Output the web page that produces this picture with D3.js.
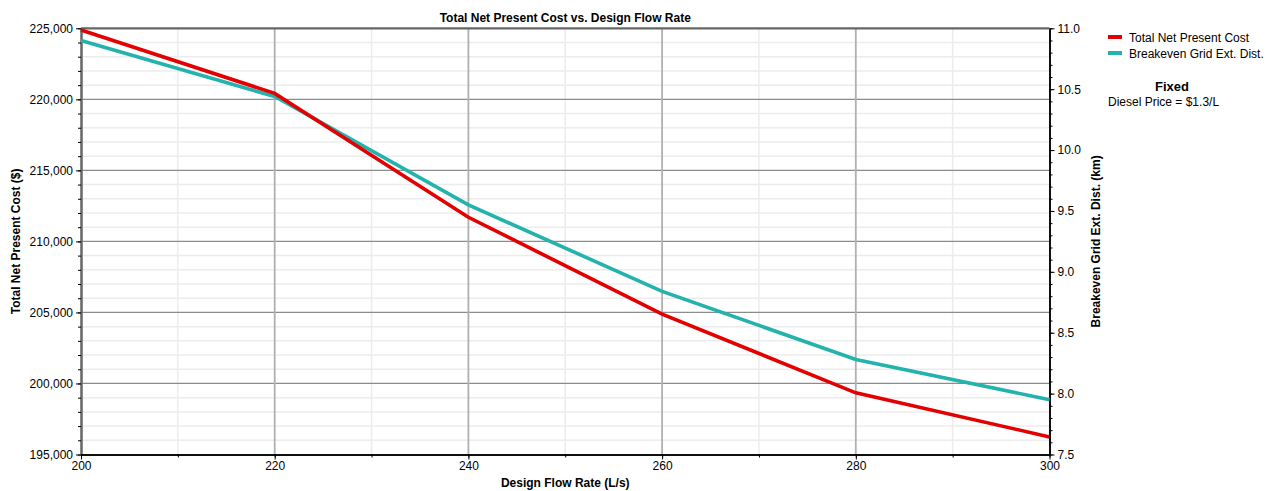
<!DOCTYPE html>
<html><head><meta charset="utf-8">
<script src="https://cdn.jsdelivr.net/npm/d3@7"></script>
<style>body{margin:0;background:#fff}svg{display:block;font-family:"Liberation Sans",Arial,sans-serif}</style>
</head><body><svg id="c" width="1287" height="491"></svg>
<script>
const flowRates = [200, 220, 240, 260, 280, 300];
const totalNPC = [224880, 220420, 211700, 204880, 199340, 196240];
const breakevenDist = [10.90, 10.44, 9.55, 8.84, 8.28, 7.95];
const xTicks = [200, 220, 240, 260, 280, 300];
const leftTicks = [195000, 200000, 205000, 210000, 215000, 220000, 225000];
const rightTicks = [7.5, 8.0, 8.5, 9.0, 9.5, 10.0, 10.5, 11.0];
const seriesNames = ["Total Net Present Cost", "Breakeven Grid Ext. Dist."];
const colors = ["#e30000", "#23b3ac"];

const svg = d3.select("#c");
const L = 81, R = 1049.5, T = 28.3, B = 454.5;
const x = d3.scaleLinear().domain([200, 300]).range([L, R]);
const yL = d3.scaleLinear().domain([195000, 225000]).range([B, T]);
const yR = d3.scaleLinear().domain([7.5, 11.0]).range([B, T]);

// minor grid
const g = svg.append("g");
d3.range(195000, 225001, 1000).filter(v => v % 5000 !== 0).forEach(v => {
  g.append("line").attr("x1", L).attr("x2", R).attr("y1", yL(v)).attr("y2", yL(v)).attr("stroke", "#ececec").attr("stroke-width", 1.5);
});
d3.range(210, 300, 20).forEach(v => {
  g.append("line").attr("x1", x(v)).attr("x2", x(v)).attr("y1", T).attr("y2", B).attr("stroke", "#ececec").attr("stroke-width", 1.5);
});
// major grid
leftTicks.slice(1, -1).forEach(v => {
  g.append("line").attr("x1", L).attr("x2", R).attr("y1", yL(v)).attr("y2", yL(v)).attr("stroke", "#8c8c8c").attr("stroke-width", 1.3);
});
xTicks.slice(1, -1).forEach(v => {
  g.append("line").attr("x1", x(v)).attr("x2", x(v)).attr("y1", T).attr("y2", B).attr("stroke", "#b0b0b0").attr("stroke-width", 1.8);
});

// axes
const fmt = d3.format(",");
const axL = svg.append("g").attr("transform", `translate(${L},0)`)
  .call(d3.axisLeft(yL).tickValues(leftTicks).tickFormat(fmt).tickSize(5).tickSizeOuter(0));
const axLm = svg.append("g").attr("transform", `translate(${L},0)`)
  .call(d3.axisLeft(yL).tickValues(d3.range(195000, 225001, 1000)).tickFormat("").tickSize(3).tickSizeOuter(0));
const axR = svg.append("g").attr("transform", `translate(${R},0)`)
  .call(d3.axisRight(yR).tickValues(rightTicks).tickFormat(d3.format(".1f")).tickSize(5).tickSizeOuter(0));
const axRm = svg.append("g").attr("transform", `translate(${R},0)`)
  .call(d3.axisRight(yR).tickValues(d3.range(75, 111, 1).map(v => v / 10)).tickFormat("").tickSize(3).tickSizeOuter(0));
const axB = svg.append("g").attr("transform", `translate(0,${B})`)
  .call(d3.axisBottom(x).tickValues(xTicks).tickFormat(d3.format("d")).tickSize(5).tickSizeOuter(0));
const axBm = svg.append("g").attr("transform", `translate(0,${B})`)
  .call(d3.axisBottom(x).tickValues(d3.range(200, 301, 10)).tickFormat("").tickSize(3).tickSizeOuter(0));
[axL, axLm, axR, axRm, axB, axBm].forEach(a => {
  a.selectAll("text").attr("font-size", 12).attr("fill", "#000").attr("font-family", "Liberation Sans, Arial, sans-serif");
  a.selectAll("line").attr("stroke", "#000");
});
axL.selectAll("text").attr("dx", "0px");
axB.selectAll("text").attr("dy", "0.6em");
[axL, axLm].forEach(a => a.select(".domain").attr("stroke", "#666").attr("stroke-width", 2));
[axR, axRm, axB, axBm].forEach(a => a.select(".domain").attr("stroke", "#000").attr("stroke-width", 1.5));
svg.append("line").attr("x1", L).attr("x2", R).attr("y1", T).attr("y2", T).attr("stroke", "#666").attr("stroke-width", 2.2);

// lines
const lineL = d3.line().x((d, i) => x(flowRates[i])).y(d => yL(d));
const lineR = d3.line().x((d, i) => x(flowRates[i])).y(d => yR(d));
svg.append("path").attr("d", lineR(breakevenDist)).attr("fill", "none").attr("stroke", colors[1]).attr("stroke-width", 3.6);
svg.append("path").attr("d", lineL(totalNPC)).attr("fill", "none").attr("stroke", colors[0]).attr("stroke-width", 3.6);

// titles
svg.append("text").attr("x", (L + R) / 2).attr("y", 22).attr("text-anchor", "middle")
  .attr("font-size", 12).attr("font-weight", "bold").text("Total Net Present Cost vs. Design Flow Rate");
svg.append("text").attr("x", (L + R) / 2).attr("y", 487).attr("text-anchor", "middle")
  .attr("font-size", 12).attr("font-weight", "bold").text("Design Flow Rate (L/s)");
svg.append("text").attr("transform", `translate(20,${(T + B) / 2}) rotate(-90)`).attr("text-anchor", "middle")
  .attr("font-size", 12).attr("font-weight", "bold").text("Total Net Present Cost ($)");
svg.append("text").attr("transform", `translate(1100,${(T + B) / 2}) rotate(-90)`).attr("text-anchor", "middle")
  .attr("font-size", 12).attr("font-weight", "bold").text("Breakeven Grid Ext. Dist. (km)");

// legend
seriesNames.forEach((n, i) => {
  const yy = 37 + i * 16;
  svg.append("rect").attr("x", 1108).attr("y", yy - 2).attr("width", 14).attr("height", 4).attr("fill", colors[i]);
  svg.append("text").attr("x", 1129).attr("y", yy + 5).attr("font-size", 12).text(n);
});
svg.append("text").attr("x", 1172).attr("y", 91).attr("text-anchor", "middle").attr("font-size", 13).attr("font-weight", "bold").text("Fixed");
svg.append("text").attr("x", 1108).attr("y", 106).attr("font-size", 12).text("Diesel Price = $1.3/L");
</script></body></html>
